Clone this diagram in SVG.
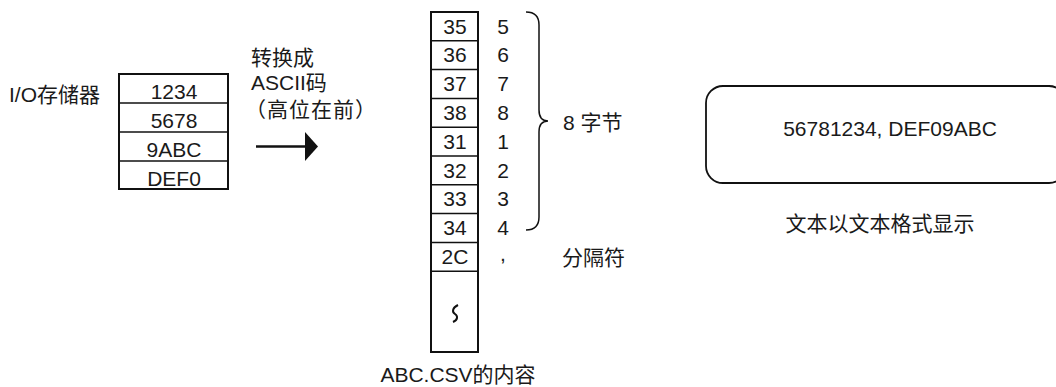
<svg xmlns="http://www.w3.org/2000/svg" width="1056" height="387" viewBox="0 0 1056 387">
<style>
.t{font-family:"Liberation Sans","Noto Sans CJK SC",Arial,sans-serif;font-size:21px;fill:#1a1a1a}
.m{text-anchor:middle}
.box{fill:#fff;stroke:#111;stroke-width:2}
.ln{stroke:#111;stroke-width:1.5;fill:none}
</style>
<rect width="1056" height="387" fill="#fff"/>

<g id="io-label"><text class="t" x="9" y="102">I/O存储器</text></g>

<g id="io-memory">
<rect class="box" x="119" y="74" width="109" height="115"/>
<line class="ln" x1="119" y1="103" x2="228" y2="103"/>
<line class="ln" x1="119" y1="132" x2="228" y2="132"/>
<line class="ln" x1="119" y1="161" x2="228" y2="161"/>
<text class="t m" x="174" y="99">1234</text>
<text class="t m" x="174" y="128">5678</text>
<text class="t m" x="174" y="157">9ABC</text>
<text class="t m" x="174" y="186">DEF0</text>
</g>

<g id="convert-label">
<text class="t" x="251" y="65">转换成</text>
<text class="t" x="251" y="90">ASCII码</text>
<text class="t" x="245" y="117" letter-spacing="1">（高位在前）</text>
</g>

<g id="connectors">
<line x1="256" y1="146.5" x2="307" y2="146.5" stroke="#111" stroke-width="2.5"/>
<polygon points="305,132 318,146.5 305,161" fill="#111"/>
<path class="ln" d="M526,12 Q539,12 539,25 L539,110 Q539,121 548,121 Q539,121 539,132 L539,217 Q539,230 526,230"/>
</g>

<g id="csv-column">
<rect class="box" x="431" y="12" width="47" height="340"/>
<line class="ln" x1="431" y1="40.8" x2="478" y2="40.8"/>
<line class="ln" x1="431" y1="69.6" x2="478" y2="69.6"/>
<line class="ln" x1="431" y1="98.4" x2="478" y2="98.4"/>
<line class="ln" x1="431" y1="127.2" x2="478" y2="127.2"/>
<line class="ln" x1="431" y1="156" x2="478" y2="156"/>
<line class="ln" x1="431" y1="184.8" x2="478" y2="184.8"/>
<line class="ln" x1="431" y1="213.6" x2="478" y2="213.6"/>
<line class="ln" x1="431" y1="242.4" x2="478" y2="242.4"/>
<line class="ln" x1="431" y1="271.2" x2="478" y2="271.2"/>
<text class="t m" x="455" y="33.5">35</text>
<text class="t m" x="455" y="62.3">36</text>
<text class="t m" x="455" y="91.1">37</text>
<text class="t m" x="455" y="119.9">38</text>
<text class="t m" x="455" y="148.7">31</text>
<text class="t m" x="455" y="177.5">32</text>
<text class="t m" x="455" y="206.3">33</text>
<text class="t m" x="455" y="235.1">34</text>
<text class="t m" x="455" y="263.9">2C</text>
<path d="M458,305 C452,308 452,312 455,314 C458,316 458,320 453,322" fill="none" stroke="#111" stroke-width="2"/>
</g>

<g id="chars">
<text class="t m" x="503" y="33.5">5</text>
<text class="t m" x="503" y="62.3">6</text>
<text class="t m" x="503" y="91.1">7</text>
<text class="t m" x="503" y="119.9">8</text>
<text class="t m" x="503" y="148.7">1</text>
<text class="t m" x="503" y="177.5">2</text>
<text class="t m" x="503" y="206.3">3</text>
<text class="t m" x="503" y="235.1">4</text>
<text class="t m" x="503" y="261">,</text>
</g>

<g id="bytes-label"><text class="t" x="563" y="130">8 字节</text></g>
<g id="separator-label"><text class="t" x="562" y="265">分隔符</text></g>
<g id="csv-label"><text class="t m" x="458" y="382">ABC.CSV的内容</text></g>

<g id="display-box">
<rect x="706" y="86" width="360" height="97" rx="17" ry="17" fill="#fff" stroke="#111" stroke-width="1.8"/>
<text class="t m" x="890" y="136">56781234, DEF09ABC</text>
</g>
<g id="display-caption"><text class="t m" x="880" y="231">文本以文本格式显示</text></g>
</svg>
